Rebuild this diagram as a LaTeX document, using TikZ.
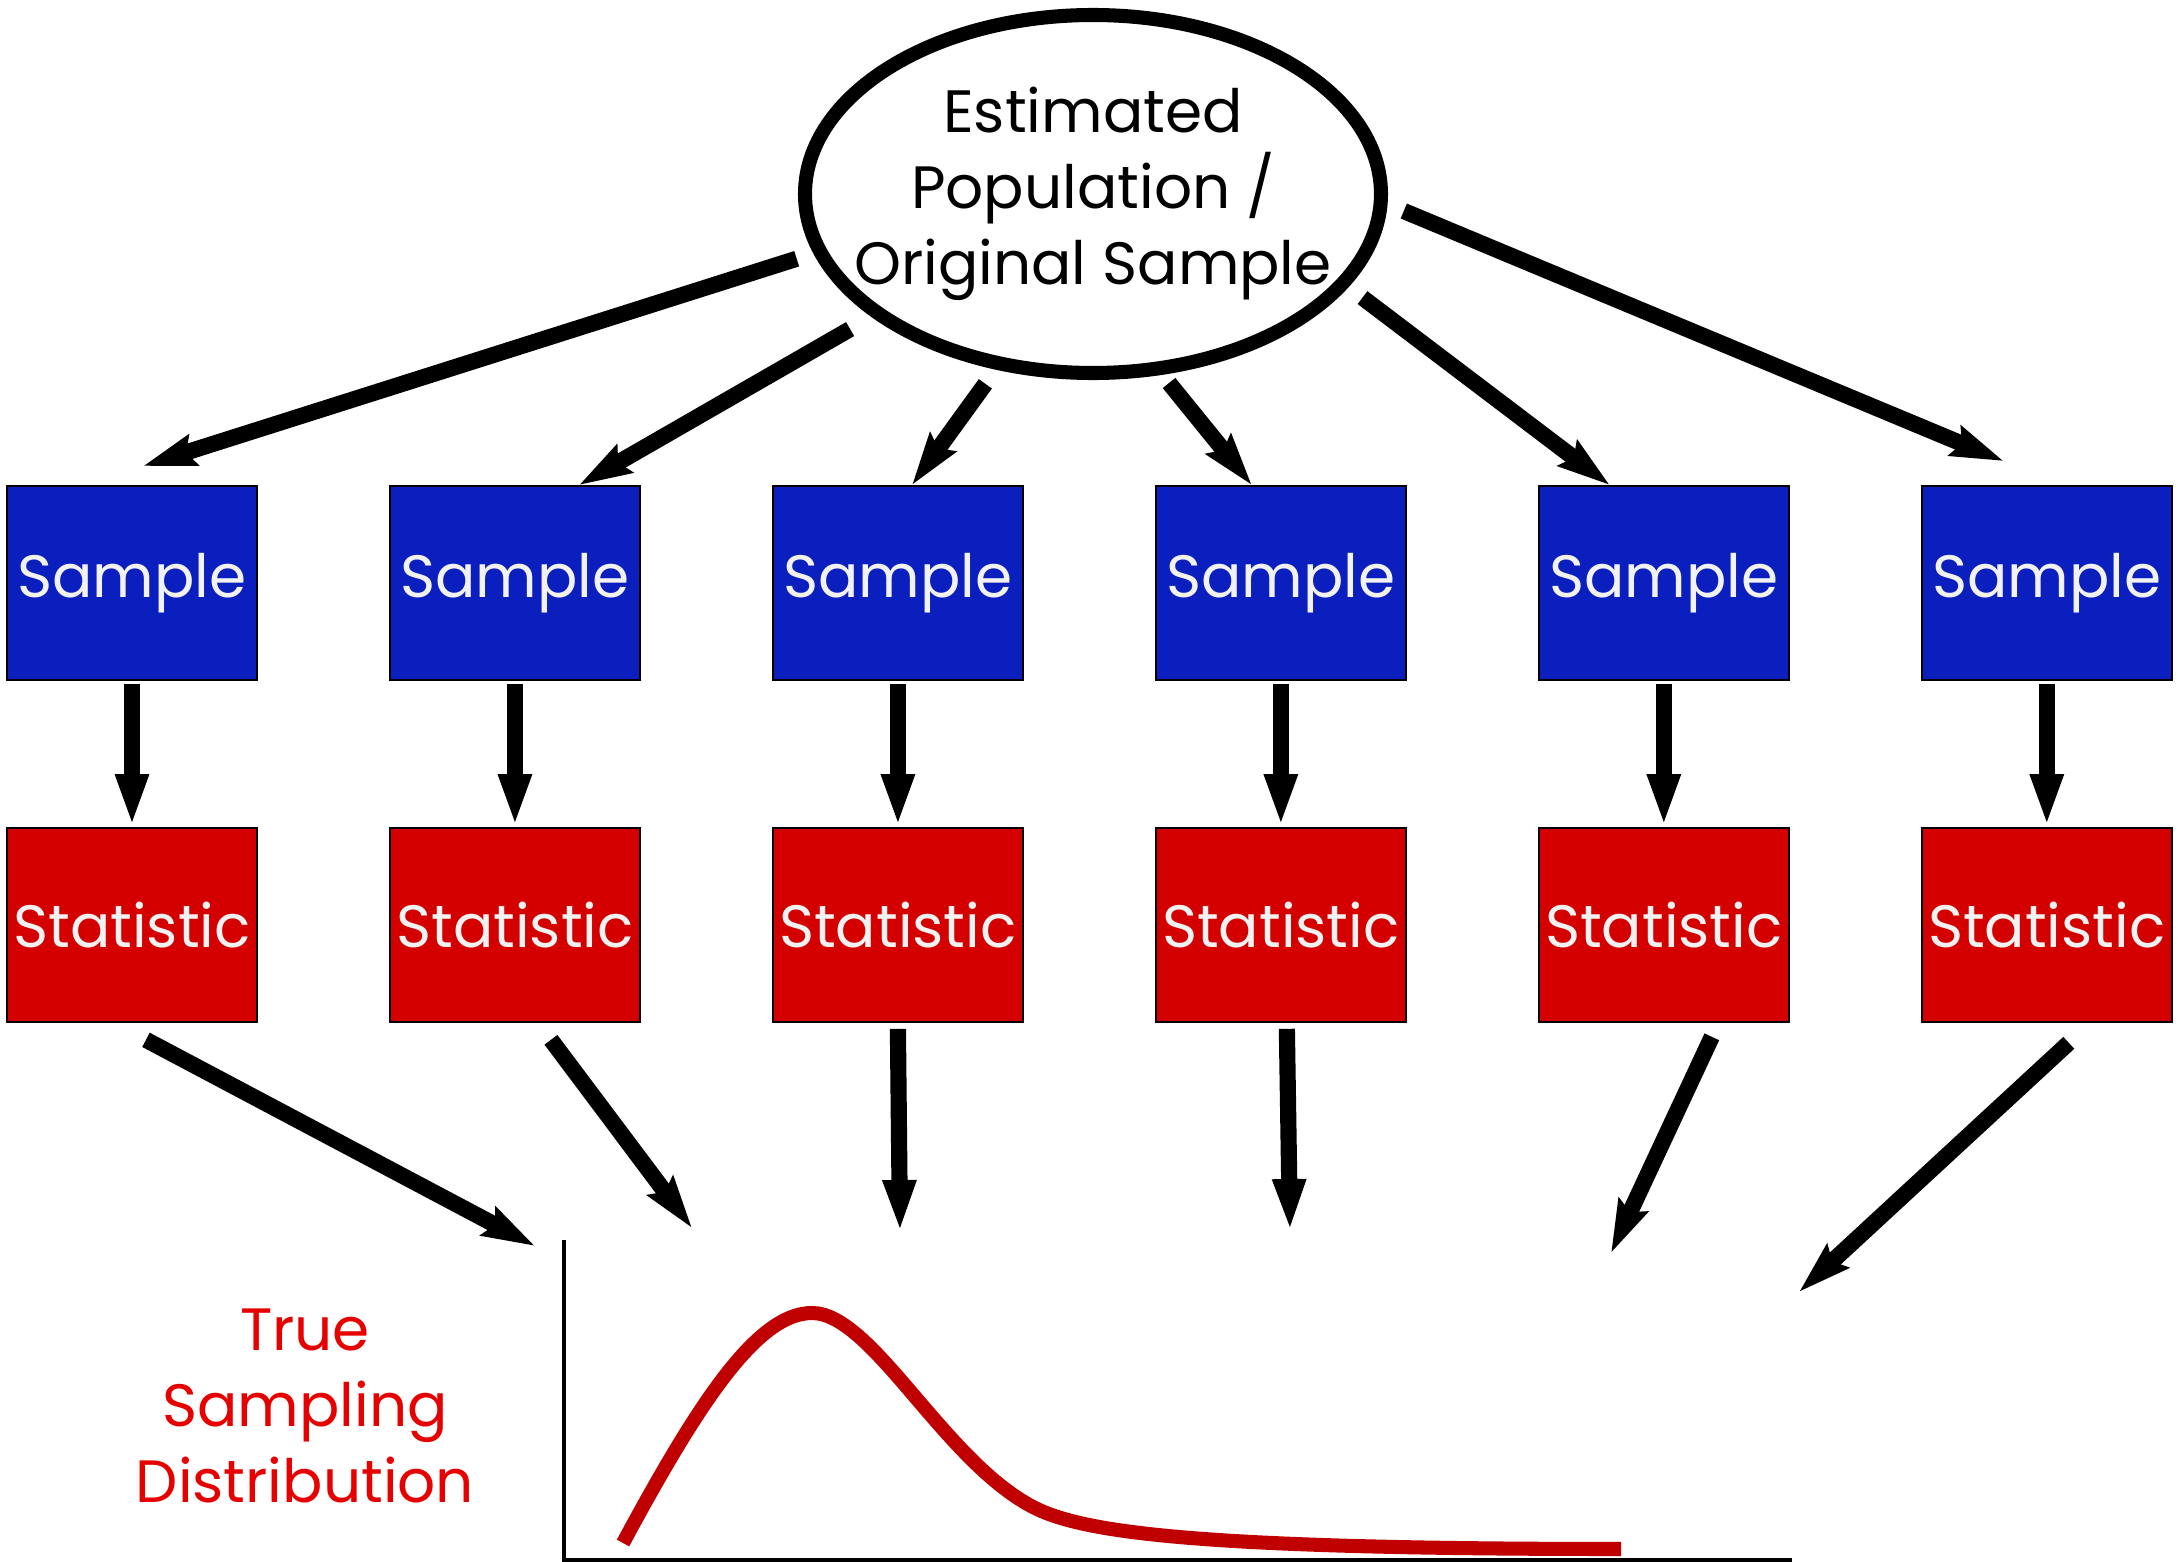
\documentclass[tikz,border=0pt]{standalone}
\usepackage{fontspec}
\setmainfont{Poppins}
\usetikzlibrary{arrows.meta,positioning,shapes.geometric,calc}

\definecolor{sampleblue}{HTML}{0B1FBF}
\definecolor{statred}{HTML}{D40000}
\definecolor{curvered}{HTML}{C00000}
\definecolor{labelred}{HTML}{E60000}
\definecolor{boxtext}{HTML}{F2F2F2}
\newcommand{\diagfont}{\fontsize{17pt}{21.6pt}\selectfont}

\begin{document}
\begin{tikzpicture}[
    node distance=1.462cm and 1.312cm,
    box/.style={draw=black, line width=0.5pt, minimum width=2.5cm, minimum height=1.94cm, inner sep=0pt, text=boxtext, font=\diagfont},
    sample/.style={box, fill=sampleblue},
    stat/.style={box, fill=statred},
    popn/.style={draw, ellipse, line width=4pt, minimum width=5.76cm, minimum height=3.58cm, inner xsep=-0.4cm, inner ysep=0pt, align=center, font=\diagfont},
    arrow/.style={-{Stealth[length=5.2mm,width=3.1mm,inset=0.7mm]}, line width=4.6pt},
    drop/.style={-{Triangle[length=5.3mm,width=3mm]}, line width=4.6pt}
]
\useasboundingbox (0,0) rectangle (21.78,-15.62);

\node[popn] (pop) at (10.93,-1.94) {Estimated\\Population /\\Original Sample};

\node[sample] (s1) at (1.32,-5.83) {Sample};
\node[sample, right=of s1] (s2) {Sample};
\node[sample, right=of s2] (s3) {Sample};
\node[sample, right=of s3] (s4) {Sample};
\node[sample, right=of s4] (s5) {Sample};
\node[sample, right=of s5] (s6) {Sample};

\node[stat, below=of s1] (t1) {Statistic};
\node[stat, below=of s2] (t2) {Statistic};
\node[stat, below=of s3] (t3) {Statistic};
\node[stat, below=of s4] (t4) {Statistic};
\node[stat, below=of s5] (t5) {Statistic};
\node[stat, below=of s6] (t6) {Statistic};

\node[font=\diagfont, text=labelred, align=center] (lbl) at (3.05,-14.06) {True\\Sampling\\Distribution};

% where the statistics land
\coordinate (d1) at (5.35,-12.46);
\coordinate (d2) at (6.92,-12.28);
\coordinate (d3) at (9.00,-12.33);
\coordinate (d4) at (12.90,-12.32);
\coordinate (d5) at (16.11,-12.53);
\coordinate (d6) at (17.99,-12.92);

\draw[arrow, shorten <=5pt] (pop.192) -- ($(s1.north)+(0.11,0.19)$);
\draw[arrow, shorten <=7pt] (pop.209) -- ($(s2.north)+(0.64,0)$);
\draw[arrow, shorten <=5pt] (pop.241) -- ($(s3.north)+(0.14,0)$);
\draw[arrow, shorten <=3pt] (pop.291) -- ($(s4.north)+(-0.29,0)$);
\draw[arrow, shorten <=5pt] (pop.340) -- ($(s5.north)+(-0.54,0)$);
\draw[arrow, shorten <=5pt] (pop.358) -- ($(s6.north)+(-0.43,0.24)$);

\draw[drop, shorten <=1pt] (s1) -- (t1);
\draw[drop, shorten <=1pt] (s2) -- (t2);
\draw[drop, shorten <=1pt] (s3) -- (t3);
\draw[drop, shorten <=1pt] (s4) -- (t4);
\draw[drop, shorten <=1pt] (s5) -- (t5);
\draw[drop, shorten <=1pt] (s6) -- (t6);

\draw[arrow] ($(t1.south)+(0.14,-0.17)$) -- (d1);
\draw[arrow] ($(t2.south)+(0.36,-0.17)$) -- (d2);
\draw[drop] ($(t3.south)+(0,-0.06)$) -- (d3);
\draw[drop] ($(t4.south)+(0.06,-0.06)$) -- (d4);
\draw[arrow] ($(t5.south)+(0.48,-0.14)$) -- (d5);
\draw[arrow] ($(t6.south)+(0.22,-0.20)$) -- (d6);

% axes and density
\draw[line width=1.2pt] (5.64,-12.40) -- (5.64,-15.60) -- (17.92,-15.60);
\draw[curvered, line width=4pt] (6.23,-15.43) .. controls (6.98,-14.04) and (7.57,-13.13) .. (8.12,-13.13)
    .. controls (8.72,-13.13) and (9.43,-14.60) .. (10.33,-15.07)
    .. controls (10.83,-15.33) and (12.00,-15.49) .. (16.21,-15.49);
\end{tikzpicture}
\end{document}
